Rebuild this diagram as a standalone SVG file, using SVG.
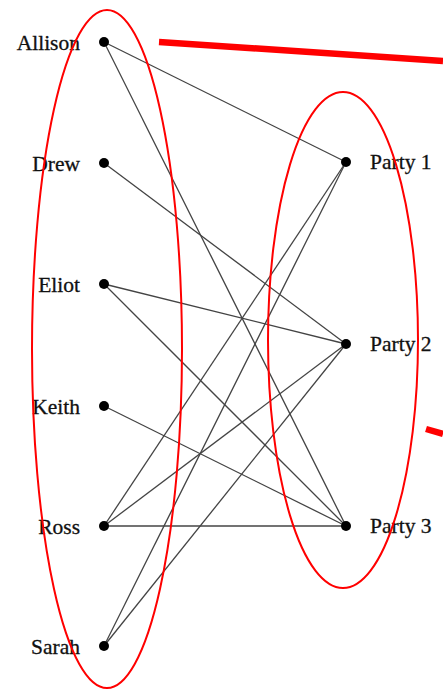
<svg xmlns="http://www.w3.org/2000/svg" width="443" height="690" viewBox="0 0 443 690">
<style>
.lbl{font-family:"Liberation Serif",serif;font-size:21.5px;fill:#111;stroke:#111;stroke-width:0.3}
.e{stroke:#444;stroke-width:1.3;fill:none}
.n{fill:#000}
.red{fill:none;stroke:#f00;stroke-width:2}
.rl{stroke:#f00;stroke-width:6.5}
</style>
<rect width="443" height="690" fill="#fff"/>
<g id="connectors">
<line class="e" x1="104" y1="42" x2="346" y2="162"/>
<line class="e" x1="104" y1="42" x2="346" y2="526"/>
<line class="e" x1="104" y1="163" x2="346" y2="344"/>
<line class="e" x1="104" y1="284" x2="346" y2="344"/>
<line class="e" x1="104" y1="284" x2="346" y2="526"/>
<line class="e" x1="104" y1="406" x2="346" y2="526"/>
<line class="e" x1="104" y1="526" x2="346" y2="162"/>
<line class="e" x1="104" y1="526" x2="346" y2="344"/>
<line class="e" x1="104" y1="526" x2="346" y2="526"/>
<line class="e" x1="104" y1="646" x2="346" y2="162"/>
<line class="e" x1="104" y1="646" x2="346" y2="344"/>
</g>
<g id="allison"><circle class="n" cx="104" cy="42" r="5"/><text class="lbl" x="80" y="50" text-anchor="end">Allison</text></g>
<g id="drew"><circle class="n" cx="104" cy="163" r="5"/><text class="lbl" x="80" y="171" text-anchor="end">Drew</text></g>
<g id="eliot"><circle class="n" cx="104" cy="284" r="5"/><text class="lbl" x="80" y="292" text-anchor="end">Eliot</text></g>
<g id="keith"><circle class="n" cx="104" cy="406" r="5"/><text class="lbl" x="80" y="414" text-anchor="end">Keith</text></g>
<g id="ross"><circle class="n" cx="104" cy="526" r="5"/><text class="lbl" x="80" y="534" text-anchor="end">Ross</text></g>
<g id="sarah"><circle class="n" cx="104" cy="646" r="5"/><text class="lbl" x="80" y="654" text-anchor="end">Sarah</text></g>
<g id="party1"><circle class="n" cx="346" cy="162" r="5"/><text class="lbl" x="370" y="169">Party 1</text></g>
<g id="party2"><circle class="n" cx="346" cy="344" r="5"/><text class="lbl" x="370" y="351">Party 2</text></g>
<g id="party3"><circle class="n" cx="346" cy="526" r="5"/><text class="lbl" x="370" y="533">Party 3</text></g>
<g id="annotations">
<ellipse class="red" cx="107" cy="349" rx="75" ry="339"/>
<ellipse class="red" cx="343" cy="340" rx="75" ry="248"/>
<line class="rl" x1="159" y1="42" x2="443" y2="61"/>
<line class="rl" x1="426" y1="429" x2="443" y2="434"/>
</g>
</svg>
